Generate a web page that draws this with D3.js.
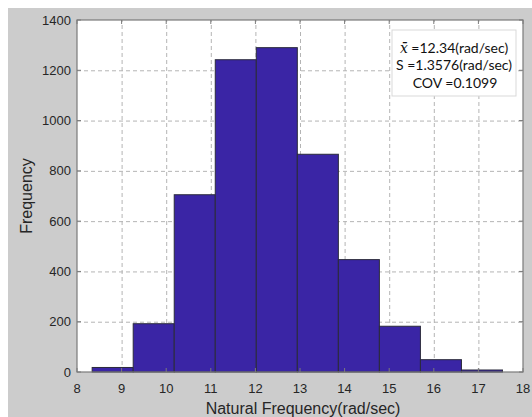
<!DOCTYPE html>
<html>
<head>
<meta charset="utf-8">
<script src="https://cdn.jsdelivr.net/npm/d3@7"></script>
<style>
  body { margin: 0; background: #fff; }
  svg text { font-family: "Liberation Sans", Arial, sans-serif; }
  .grid line { stroke: #b4b4b4; stroke-dasharray: 4,3; }
  .grid path { display: none; }
</style>
</head>
<body>
<svg id="chart" width="532" height="417"></svg>
<script>
// histogram bins (rad/sec) and counts
const binEdges = [8.34, 9.26, 10.18, 11.1, 12.02, 12.94, 13.86, 14.78, 15.7, 16.62, 17.54];
const counts = [18, 192, 705, 1242, 1290, 866, 447, 182, 49, 8];
const xTicks = [8, 9, 10, 11, 12, 13, 14, 15, 16, 17, 18];
const yTicks = [0, 200, 400, 600, 800, 1000, 1200, 1400];
const statLines = ['=12.34(rad/sec)', 'S =1.3576(rad/sec)', 'COV =0.1099'];

const svg = d3.select('#chart');
const plotL = 77, plotT = 20, plotR = 523, plotB = 372;

svg.append('rect')
    .attr('x', 8).attr('y', 8)
    .attr('width', 524).attr('height', 409)
    .attr('fill', '#cccccc');

svg.append('rect')
    .attr('x', plotL).attr('y', plotT)
    .attr('width', plotR - plotL).attr('height', plotB - plotT)
    .attr('fill', '#fff');

const x = d3.scaleLinear().domain([8, 18]).range([plotL, plotR]);
const y = d3.scaleLinear().domain([0, 1400]).range([plotB, plotT]);

// grid
svg.append('g')
    .attr('class', 'grid')
    .attr('transform', `translate(0, ${plotB})`)
    .call(d3.axisBottom(x).tickValues(xTicks.slice(1, -1)).tickSize(-(plotB - plotT)).tickFormat(''));
svg.append('g')
    .attr('class', 'grid')
    .attr('transform', `translate(${plotL}, 0)`)
    .call(d3.axisLeft(y).tickValues(yTicks.slice(1, -1)).tickSize(-(plotR - plotL)).tickFormat(''));

// bars
svg.append('g')
    .selectAll('rect')
    .data(counts)
    .enter()
    .append('rect')
    .attr('x', (d, i) => x(binEdges[i]))
    .attr('y', d => y(d))
    .attr('width', (d, i) => x(binEdges[i + 1]) - x(binEdges[i]))
    .attr('height', d => y(0) - y(d))
    .attr('fill', '#3a25a5')
    .attr('stroke', '#2b2b3b')
    .attr('stroke-width', 1);

// axes box
svg.append('rect')
    .attr('x', plotL).attr('y', plotT)
    .attr('width', plotR - plotL).attr('height', plotB - plotT)
    .attr('fill', 'none')
    .attr('stroke', '#7a7a7a')
    .attr('stroke-width', 1.2);

// inward ticks
const tickG = svg.append('g').attr('stroke', '#7a7a7a');
xTicks.forEach(t => {
    tickG.append('line').attr('x1', x(t)).attr('x2', x(t)).attr('y1', plotB).attr('y2', plotB - 4);
    tickG.append('line').attr('x1', x(t)).attr('x2', x(t)).attr('y1', plotT).attr('y2', plotT + 4);
});
yTicks.forEach(t => {
    tickG.append('line').attr('x1', plotL).attr('x2', plotL + 4).attr('y1', y(t)).attr('y2', y(t));
    tickG.append('line').attr('x1', plotR).attr('x2', plotR - 4).attr('y1', y(t)).attr('y2', y(t));
});

// tick labels
svg.append('g')
    .selectAll('text')
    .data(xTicks)
    .enter()
    .append('text')
    .attr('x', d => x(d))
    .attr('y', 393)
    .attr('text-anchor', 'middle')
    .attr('font-size', 13)
    .attr('fill', '#262626')
    .text(d => d);

svg.append('g')
    .selectAll('text')
    .data(yTicks)
    .enter()
    .append('text')
    .attr('x', plotL - 6)
    .attr('y', d => y(d) + 4.5)
    .attr('text-anchor', 'end')
    .attr('font-size', 13)
    .attr('fill', '#262626')
    .text(d => d);

// axis labels
svg.append('text')
    .attr('x', 303)
    .attr('y', 414)
    .attr('text-anchor', 'middle')
    .attr('font-size', 16)
    .attr('fill', '#262626')
    .text('Natural Frequency(rad/sec)');

svg.append('text')
    .attr('transform', `translate(32, ${(plotT + plotB) / 2}) rotate(-90)`)
    .attr('text-anchor', 'middle')
    .attr('font-size', 16)
    .attr('fill', '#262626')
    .text('Frequency');

// stats box
svg.append('rect')
    .attr('x', 392).attr('y', 30)
    .attr('width', 124).attr('height', 66)
    .attr('fill', '#fff')
    .attr('stroke', '#d9d9d9');

const box = svg.append('text')
    .attr('text-anchor', 'middle')
    .attr('font-size', 14)
    .attr('fill', '#111')
    .style('font-family', 'Lato, "Open Sans", sans-serif');

box.append('tspan')
    .attr('x', 454).attr('y', 53)
    .html('<tspan font-style="italic" font-family="DejaVu Serif">x̄</tspan> ' + statLines[0]);
box.append('tspan').attr('x', 454).attr('y', 70).text(statLines[1]);
box.append('tspan').attr('x', 455).attr('y', 88).text(statLines[2]);
</script>
</body>
</html>
